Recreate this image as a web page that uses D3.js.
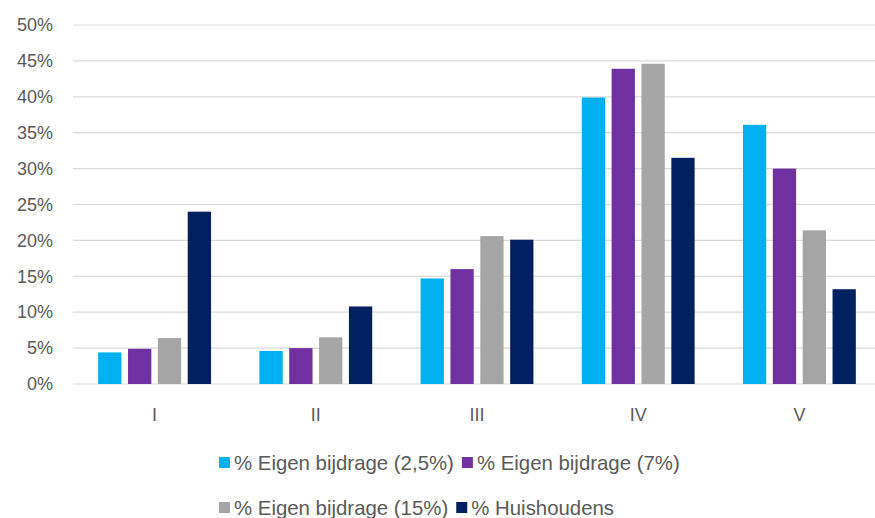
<!DOCTYPE html>
<html><head><meta charset="utf-8">
<script src="https://cdn.jsdelivr.net/npm/d3@7"></script>
<style>html,body{margin:0;padding:0;background:#fff;}svg{display:block;font-family:"Liberation Sans",Arial,sans-serif;}</style>
</head><body>
<svg id="c" width="875" height="518"></svg>
<script>
const categories = ["I","II","III","IV","V"];
const seriesNames = ["% Eigen bijdrage (2,5%)","% Eigen bijdrage (7%)","% Eigen bijdrage (15%)","% Huishoudens"];
const seriesColors = ["#00B0F0","#7030A0","#A5A5A5","#002060"];
const s25 = [4.4, 4.6, 14.7, 39.9, 36.1];
const s7 = [4.9, 5.0, 16.0, 43.9, 30.0];
const s15 = [6.4, 6.5, 20.6, 44.6, 21.4];
const huish = [24.0, 10.8, 20.1, 31.5, 13.2];
const yTicks = [0,5,10,15,20,25,30,35,40,45,50];

const series = [s25, s7, s15, huish];
const svg = d3.select("#c");
const L = 73, R = 880, T = 25, B = 384;
const x0 = d3.scaleBand().domain(categories).range([74, R]).paddingInner(0.3).paddingOuter(0.15);
const x1 = d3.scaleBand().domain(d3.range(series.length)).range([0, x0.bandwidth()]).paddingInner(0.22);
const y = d3.scaleLinear().domain([0, 50]).range([B, T]);

// gridlines
svg.append("g").selectAll("line").data(yTicks).join("line")
  .attr("x1", L).attr("x2", 875).attr("y1", d => y(d)).attr("y2", d => y(d))
  .attr("stroke", "#d9d9d9").attr("stroke-width", 1.2);

// y axis labels
const yAxis = d3.axisLeft(y).tickValues(yTicks).tickFormat(d => d + "%").tickSize(0).tickPadding(0);
const gy = svg.append("g").attr("transform", `translate(${L-20},0)`).call(yAxis);
gy.select(".domain").remove();
gy.selectAll("text").attr("font-size", 18).attr("fill", "#595959").attr("font-family", "Liberation Sans, Arial, sans-serif");

// bars
const g = svg.append("g");
categories.forEach((c, ci) => {
  series.forEach((s, si) => {
    g.append("rect")
      .attr("x", x0(c) + x1(si))
      .attr("width", x1.bandwidth())
      .attr("y", y(s[ci]))
      .attr("height", y(0) - y(s[ci]))
      .attr("fill", seriesColors[si]);
  });
});

// x axis labels
const xAxis = d3.axisBottom(x0).tickSize(0).tickPadding(0);
const gx = svg.append("g").attr("transform", `translate(0,${B+24})`).call(xAxis);
gx.select(".domain").remove();
gx.selectAll("text").attr("font-size", 18).attr("fill", "#595959").attr("font-family", "Liberation Sans, Arial, sans-serif");

// legend
const rows = [[0,1],[2,3]];
const rowY = [463, 508];
const rowX = [219, 219];
const leg = svg.append("g");
rows.forEach((r, ri) => {
  let x = rowX[ri];
  r.forEach(si => {
    leg.append("rect").attr("x", x).attr("y", rowY[ri]-6).attr("width", 11).attr("height", 11).attr("fill", seriesColors[si]);
    const t = leg.append("text").attr("x", x + 15).attr("y", rowY[ri]).attr("dy", "0.35em")
      .attr("font-size", 20.4).attr("fill", "#595959").text(seriesNames[si]);
    x += 15 + t.node().getComputedTextLength() + 8;
  });
});
</script>
</body></html>
